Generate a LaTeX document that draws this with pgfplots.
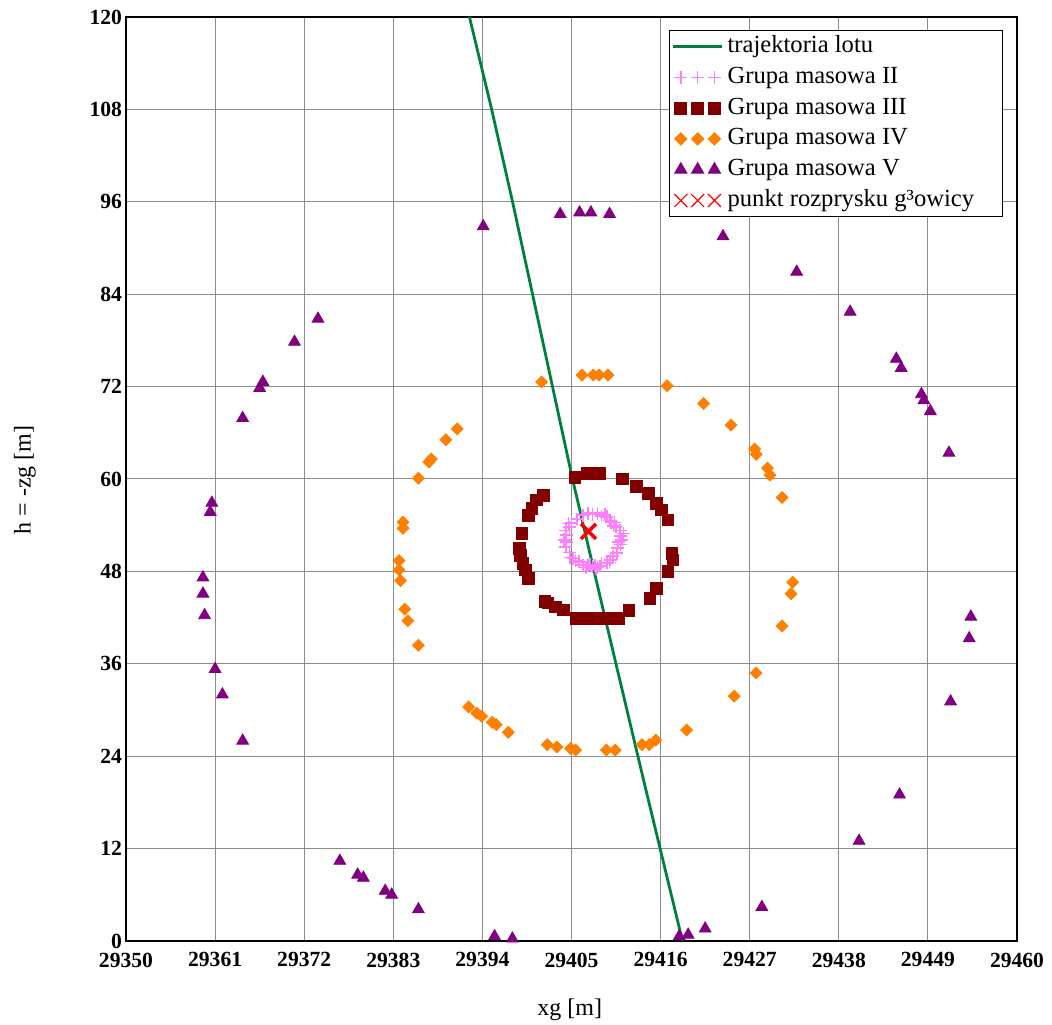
\documentclass[border=0pt]{standalone}
\usepackage{fontspec}
\setmainfont{Liberation Serif}
\usepackage{pgfplots}
\pgfplotsset{compat=1.18}
\definecolor{trajgreen}{RGB}{0,128,64}
\definecolor{pinkc}{RGB}{255,128,255}
\definecolor{brownc}{RGB}{128,0,0}
\definecolor{orangec}{RGB}{255,128,0}
\definecolor{purplec}{RGB}{128,0,128}
\definecolor{redc}{RGB}{255,0,0}
\pgfplotsset{
  mlegend/.style={legend image code/.code={\draw[##1,only marks,mark repeat=1,mark phase=1] plot coordinates {(3.8pt,0pt)(12.2pt,0pt)(20.6pt,0pt)};}},
  xlegend/.style={legend image code/.code={\draw[##1,only marks,mark repeat=1,mark phase=1,line width=0.6pt,mark size=4.6pt] plot coordinates {(3.8pt,0pt)(12.2pt,0pt)(20.6pt,0pt)};}},
  llegend/.style={legend image code/.code={\draw[##1] (0pt,0pt)--(24.5pt,0pt);}},
}
\begin{document}
\begin{tikzpicture}
\begin{axis}[name=ax, scale only axis, width=445.5pt, height=462pt,
  xmin=29350, xmax=29460, ymin=0, ymax=120,
  xtick={29350,29361,29372,29383,29394,29405,29416,29427,29438,29449,29460},
  xticklabels={29350,29361,29372,29383,29394,29405,29416,29427,29438,29449,29460},
  scaled x ticks=false,
  ytick={0,12,24,36,48,60,72,84,96,108,120},
  grid=major, grid style={color=black!45, line width=0.5pt},
  major tick length=0pt,
  axis line style={line width=0.8pt},
  /pgf/number format/1000 sep={},
  /pgf/number format/assume math mode=true,
  ticklabel style={font=\fontsize{10.8}{13}\selectfont\bfseries},
  yticklabel style={xshift=1.5pt},
  xticklabel style={yshift=-2.3pt},
  xlabel={xg [m]}, ylabel={h = -zg [m]},
  label style={font=\fontsize{12}{14}\selectfont},
  xlabel style={at={(rel axis cs:0.498,-0.0747)}, anchor=center},
  ylabel style={at={(rel axis cs:-0.1134,0.499)}, anchor=center},
  legend style={at={(0.984,0.986)}, anchor=north east, draw=black, line width=0.6pt,
    font=\fontsize{12.3}{14}\selectfont, cells={anchor=west}, row sep=0.4pt,
    inner xsep=1pt, inner ysep=0.5pt,
    nodes={inner ysep=1.5pt, text height=9pt, text depth=3pt}},
  /tikz/every even column/.append style={column sep=0.5pt},
]
\addlegendimage{trajgreen, line width=1.4pt, llegend}
\addlegendentry{trajektoria lotu}

\addplot[only marks, mark=+, mark size=3.2pt, color=pinkc, line width=0.8pt, mlegend] coordinates {
(29411.2,52.1)(29411.0,52.6)(29411.05,51.5)(29410.7,51.0)(29410.6,50.35)(29410.1,50.0)
(29409.8,49.5)(29409.35,49.1)(29408.7,49.0)(29408.5,48.7)(29407.9,48.8)(29407.6,48.6)
(29407.0,48.75)(29406.4,48.8)(29405.95,49.25)(29405.2,49.7)(29404.75,50.45)(29404.3,51.2)
(29404.1,52.1)(29404.35,52.7)(29404.3,53.3)(29404.75,53.75)(29405.0,54.3)(29405.7,54.8)
(29406.45,55.3)(29407.0,55.55)(29407.6,55.4)(29408.2,55.55)(29408.7,55.2)(29409.35,55.1)
(29409.7,54.6)(29410.3,54.35)(29410.5,53.8)(29411.0,53.3)(29410.8,51.8)(29409.7,49.15)
(29408.2,48.55)(29407.3,48.9)(29404.65,54.2)(29409.1,55.35)(29409.9,54.4)(29404.85,49.8)
(29411.4,52.9)(29410.2,53.9)(29408.0,48.3)(29406.8,48.5)(29405.5,49.4)(29404.4,51.8)
};
\addlegendentry{Grupa masowa II}

\addplot[only marks, mark=square*, mark size=2.9pt, color=brownc, mlegend] coordinates {
(29405.4,60.2)(29406.9,60.7)(29407.7,60.7)(29408.5,60.7)(29411.3,60.0)(29413.0,59.0)
(29414.5,58.1)(29415.5,56.8)(29416.1,56.0)(29416.9,54.7)(29417.4,50.3)(29417.5,49.5)
(29416.9,48.0)(29415.5,45.8)(29414.7,44.5)(29412.1,42.9)(29410.8,41.9)(29409.3,41.9)
(29408.1,41.9)(29406.9,41.9)(29405.6,41.9)(29404.0,43.0)(29403.0,43.4)(29402.1,43.9)
(29401.7,44.1)(29399.7,47.1)(29399.3,48.2)(29399.0,49.0)(29398.7,50.1)(29398.6,51.0)
(29398.9,52.9)(29399.7,55.3)(29400.1,56.2)(29400.7,57.3)(29401.5,57.9)
};
\addlegendentry{Grupa masowa III}

\addplot[only marks, mark=square*, mark options={rotate=45}, mark size=2.1pt, color=orangec, mlegend] coordinates {
(29401.3,72.6)(29406.3,73.5)(29407.7,73.5)(29408.4,73.5)(29409.5,73.5)(29416.8,72.1)
(29421.3,69.8)(29424.7,67.0)(29427.6,63.9)(29427.8,63.2)(29429.2,61.4)(29429.5,60.5)
(29431.0,57.6)(29432.3,46.6)(29432.1,45.1)(29431.0,40.9)(29427.8,34.8)(29425.1,31.8)
(29419.2,27.4)(29415.4,26.1)(29414.6,25.5)(29413.7,25.5)(29410.4,24.8)(29409.3,24.8)
(29405.5,24.8)(29404.9,25.0)(29403.2,25.2)(29402.0,25.5)(29397.2,27.1)(29395.7,28.1)
(29395.2,28.4)(29393.9,29.2)(29393.3,29.6)(29392.3,30.4)(29386.1,38.4)(29384.8,41.6)
(29384.4,43.1)(29383.9,46.8)(29383.7,48.2)(29383.7,49.4)(29384.2,53.6)(29384.2,54.4)
(29386.1,60.1)(29387.4,62.2)(29387.7,62.6)(29389.5,65.1)(29390.9,66.5)
};
\addlegendentry{Grupa masowa IV}

\addplot[only marks, mark=triangle*, mark size=3.4pt, color=purplec, mlegend] coordinates {
(29394.1,92.8)(29403.6,94.4)(29406.0,94.6)(29407.4,94.6)(29409.7,94.4)(29423.7,91.5)
(29432.8,86.9)(29439.4,81.7)(29445.1,75.6)(29445.7,74.4)(29448.2,71.0)(29448.5,70.2)
(29449.3,68.8)(29451.6,63.4)(29454.3,42.1)(29454.1,39.3)(29451.8,31.1)(29445.5,19.0)
(29440.5,13.0)(29428.5,4.4)(29421.5,1.6)(29419.4,0.8)(29418.3,0.6)(29397.7,0.3)
(29395.5,0.6)(29386.1,4.1)(29382.8,6.0)(29382.0,6.5)(29379.3,8.2)(29378.6,8.6)
(29376.4,10.4)(29364.4,26.0)(29361.9,32.0)(29361.0,35.3)(29359.7,42.3)(29359.5,45.1)
(29359.5,47.2)(29360.4,55.7)(29360.6,56.9)(29364.4,67.9)(29366.5,71.8)(29366.9,72.6)
(29370.8,77.8)(29373.7,80.8)
};
\addlegendentry{Grupa masowa V}

\addplot[forget plot, trajgreen, line width=1.4pt] coordinates {
(29392.4,120)(29395.1,108.2)(29397.7,96.1)(29405.1,60.1)(29409.0,42.6)(29414.1,20)(29418.7,0)
};

\addplot[only marks, mark=x, mark size=5.3pt, color=redc, line width=1.8pt, xlegend] coordinates {
(29407.1,53.2)
};
\addlegendentry{punkt rozprysku g³owicy\hspace*{11pt}}
\end{axis}
\pgfresetboundingbox
\path[use as bounding box] ([xshift=-63pt,yshift=-42pt]ax.south west) rectangle ([xshift=17.5pt,yshift=8.5pt]ax.north east);
\end{tikzpicture}
\end{document}
